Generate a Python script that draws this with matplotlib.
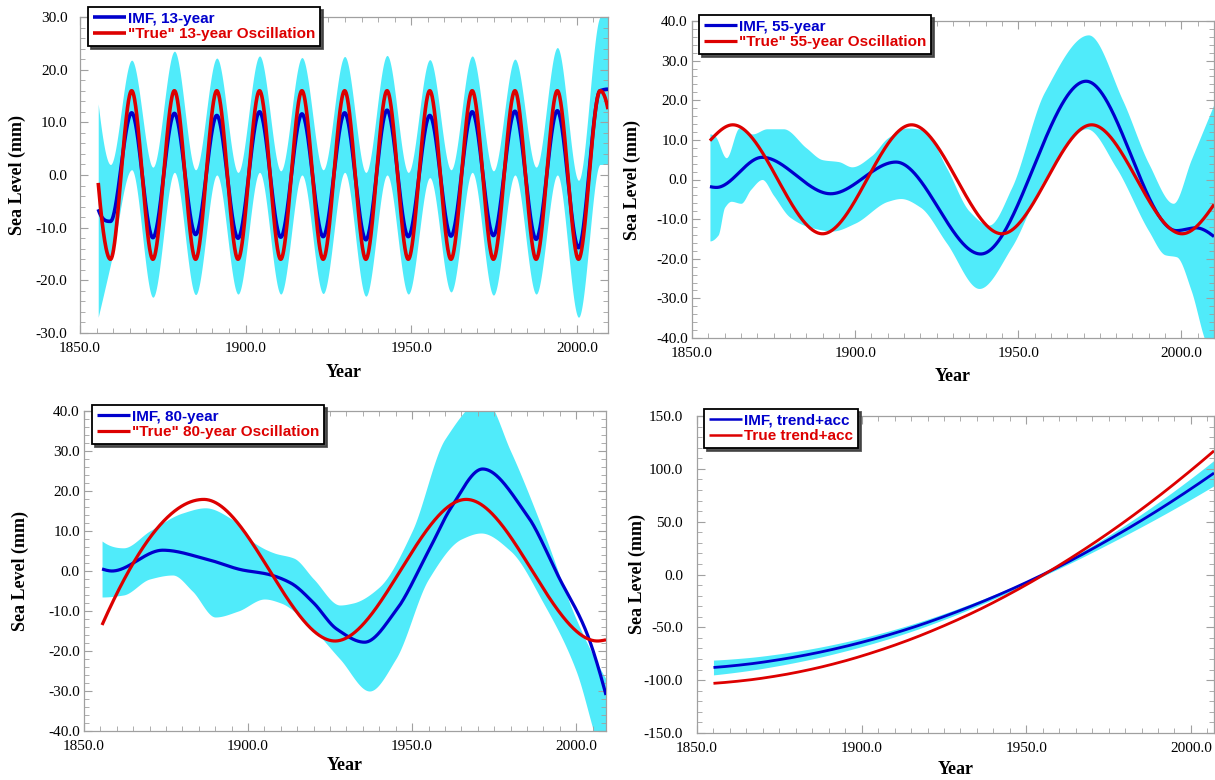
import numpy as np
import matplotlib
matplotlib.use("Agg")
import matplotlib.pyplot as plt
from matplotlib.ticker import MultipleLocator, FormatStrFormatter

# ---------------- data (knots) ----------------
# Panel 1: 13-year oscillation
yr13 = [1855.5, 1859.2, 1865.6, 1872.0, 1878.5, 1884.9, 1891.3, 1897.7, 1904.2,
        1910.6, 1917.0, 1923.4, 1929.9, 1936.3, 1942.7, 1949.1, 1955.6, 1962.0,
        1968.4, 1974.8, 1981.3, 1987.7, 1994.1, 2000.5, 2007.0, 2009.4]
true13 = [-1.5, -16, 16, -16, 16, -16, 16, -16, 16, -16, 16, -16, 16, -16, 16,
          -16, 16, -16, 16, -16, 16, -16, 16, -16, 16, 12.5]
imf13 = [-6.5, -8.8, 11.8, -11.9, 11.7, -11.3, 11.3, -12.0, 12.0, -11.8, 11.6,
         -11.7, 11.8, -12.3, 12.3, -11.7, 11.3, -11.6, 12.0, -11.5, 12.1, -12.2,
         12.2, -13.8, 16.0, 16.3]
up13 = [13.5, 2.0, 21.8, 1.5, 23.5, 1.0, 22.2, 0.5, 22.6, 0.8, 22.3, 1.0, 22.5,
        0.5, 22.7, 0.5, 21.9, 1.0, 22.6, 0.8, 22.0, 1.5, 24.2, -1.0, 30.0, 31.0]
lo13 = [-27.0, -17.0, 1.0, -23.2, 0.5, -22.7, 0.0, -22.6, 0.5, -22.6, 0.0, -22.5,
        0.5, -23.0, 0.0, -22.6, -0.5, -22.2, 0.5, -22.8, 0.0, -22.6, 0.0, -27.0,
        2.0, 2.0]

# Panel 2: 55-year oscillation
yr55_true = [1855.5, 1862.5, 1890.0, 1917.3, 1945.0, 1972.5, 2000.2, 2010.0]
true55 = [9.8, 13.8, -13.7, 13.8, -13.7, 13.8, -13.7, -6.3]
yr55_imf = [1855.5, 1857.5, 1871.5, 1892.5, 1912.5, 1938.5, 1970.8, 1998.5, 2004.5, 2010.0]
imf55 = [-1.8, -2.0, 5.6, -3.6, 4.4, -18.8, 24.8, -12.9, -12.2, -14.4]
yr55_up = [1855.5, 1857.0, 1860.5, 1864.5, 1868.5, 1873.0, 1878.0, 1885.0, 1890.0,
           1895.0, 1899.0, 1905.0, 1910.0, 1916.0, 1921.0, 1928.0, 1935.0, 1941.0,
           1948.0, 1958.0, 1971.5, 1982.0, 1990.0, 1997.5, 2003.0, 2010.0]
up55 = [11.5, 11.0, 5.5, 13.0, 11.5, 12.8, 12.8, 8.0, 5.0, 4.5, 3.2, 6.0, 10.5,
        13.0, 12.5, 3.0, -8.0, -11.5, -2.0, 22.0, 36.5, 20.0, 4.0, -6.0, 5.0, 19.0]
yr55_lo = [1855.5, 1858.0, 1860.0, 1862.0, 1865.0, 1868.0, 1871.5, 1875.0, 1880.0,
           1886.0, 1893.0, 1900.0, 1910.0, 1914.0, 1920.0, 1928.0, 1938.0, 1948.0,
           1958.0, 1971.0, 1980.0, 1990.0, 1995.0, 1998.5, 2003.0, 2007.0, 2010.0]
lo55 = [-15.5, -14.0, -7.0, -5.5, -6.0, -2.5, 0.0, -4.0, -9.5, -12.0, -13.0, -11.0,
        -5.5, -4.8, -7.0, -16.0, -27.5, -17.0, 0.0, 12.8, 3.0, -13.0, -19.0, -19.5,
        -28.0, -40.0, -46.0]

# Panel 3: 80-year oscillation
yr80_true = [1855.5, 1886.5, 1926.5, 1966.5, 2006.5, 2009.1]
true80 = [-13.5, 17.9, -17.5, 17.9, -17.5, -17.2]
yr80_imf = [1855.5, 1858.5, 1874.0, 1888.0, 1898.0, 1906.0, 1913.0, 1920.0, 1927.0,
            1935.5, 1945.0, 1955.0, 1962.0, 1971.5, 1985.0, 1995.0, 2003.0, 2009.1]
imf80 = [0.5, 0.0, 5.2, 2.8, 0.3, -0.8, -3.0, -8.0, -14.5, -17.8, -10.0, 5.0, 16.0,
         25.5, 14.0, -2.0, -15.0, -31.0]
yr80_up = [1855.5, 1862.0, 1870.0, 1880.0, 1887.0, 1895.0, 1902.0, 1908.0, 1914.0,
           1920.0, 1928.0, 1932.0, 1940.0, 1950.0, 1960.0, 1972.0, 1980.0, 1990.0,
           2000.0, 2009.1]
up80 = [7.5, 5.8, 10.0, 14.5, 15.8, 13.0, 7.0, 4.5, 3.2, -2.0, -8.5, -8.0, -4.0,
        10.0, 33.0, 43.0, 30.0, 10.0, -12.0, -27.0]
yr80_lo = [1855.5, 1862.0, 1870.0, 1877.0, 1883.0, 1890.0, 1897.0, 1905.0, 1910.0,
           1918.0, 1928.0, 1937.0, 1945.0, 1955.0, 1965.0, 1971.0, 1980.0, 1990.0,
           2000.0, 2006.0, 2009.1]
lo80 = [-6.5, -6.0, -2.0, -1.0, -5.0, -11.5, -10.0, -7.0, -8.0, -13.0, -22.0, -30.0,
        -22.0, -2.0, 8.0, 9.5, 5.0, -8.0, -25.0, -42.0, -50.0]

# Panel 4: trend + acceleration
yr_tr = [1855, 1865, 1875, 1885, 1895, 1905, 1915, 1925, 1935, 1945, 1955, 1965,
         1975, 1985, 1995, 2007]
true_tr = [-103.0, -100.1, -95.6, -89.5, -81.7, -72.2, -61.2, -48.5, -34.3, -18.3,
           -0.7, 18.5, 39.3, 61.8, 85.9, 117.0]
imf_tr = [-88.0, -85.0, -80.6, -75.0, -68.1, -60.0, -50.6, -39.8, -27.8, -14.6,
          -0.1, 15.7, 32.9, 51.2, 70.8, 96.0]
up_tr = [-81.0, -78.8, -75.1, -70.1, -63.8, -56.2, -47.3, -37.0, -25.5, -12.8, 1.4,
         18.2, 36.9, 57.2, 79.3, 108.0]
lo_tr = [-95.0, -91.2, -86.1, -79.9, -72.4, -63.8, -53.9, -42.6, -30.1, -16.4, -1.6,
         13.2, 28.9, 45.2, 62.3, 84.0]

xticks = [1850, 1900, 1950, 2000]

# ---------------- helpers ----------------
def pchip(x, y, n=1500):
    x = np.asarray(x, float)
    y = np.asarray(y, float)
    h = np.diff(x)
    d = np.diff(y) / h
    m = np.zeros_like(y)
    for k in range(1, len(x) - 1):
        if d[k - 1] * d[k] > 0:
            w1 = 2 * h[k] + h[k - 1]
            w2 = h[k] + 2 * h[k - 1]
            m[k] = (w1 + w2) / (w1 / d[k - 1] + w2 / d[k])
    def endm(h0, h1, d0, d1):
        mm = ((2 * h0 + h1) * d0 - h0 * d1) / (h0 + h1)
        if np.sign(mm) != np.sign(d0):
            mm = 0.0
        elif np.sign(d0) != np.sign(d1) and abs(mm) > abs(3 * d0):
            mm = 3 * d0
        return mm
    if len(x) > 2:
        m[0] = endm(h[0], h[1], d[0], d[1])
        m[-1] = endm(h[-1], h[-2], d[-1], d[-2])
    else:
        m[:] = d[0]
    xn = np.linspace(x[0], x[-1], n)
    idx = np.clip(np.searchsorted(x, xn) - 1, 0, len(x) - 2)
    t = (xn - x[idx]) / h[idx]
    h00 = 2 * t**3 - 3 * t**2 + 1
    h10 = t**3 - 2 * t**2 + t
    h01 = -2 * t**3 + 3 * t**2
    h11 = t**3 - t**2
    yn = h00 * y[idx] + h10 * h[idx] * m[idx] + h01 * y[idx + 1] + h11 * h[idx] * m[idx + 1]
    return xn, yn

W, H = 1215, 780
fig = plt.figure(figsize=(W / 100, H / 100), dpi=100)

CYAN = "#50EBFA"
BLUE = "#0000CC"
RED = "#DD0000"
SERIF = "Liberation Serif"
SANS = "Liberation Sans"

def make_axes(l, r, t, b):
    return fig.add_axes([l / W, 1 - b / H, (r - l) / W, (b - t) / H])

def style(ax, xlim, ylim, ymaj, ymin, ypad, ylab_x, xlab_y):
    ax.set_xlim(*xlim)
    ax.set_ylim(*ylim)
    ax.set_xticks(xticks)
    ax.xaxis.set_minor_locator(MultipleLocator(5))
    ax.yaxis.set_major_locator(MultipleLocator(ymaj))
    ax.yaxis.set_minor_locator(MultipleLocator(ymin))
    ax.xaxis.set_major_formatter(FormatStrFormatter("%.1f"))
    ax.yaxis.set_major_formatter(FormatStrFormatter("%.1f"))
    for sp in ax.spines.values():
        sp.set_color("#a0a0a0")
        sp.set_linewidth(0.9)
    ax.tick_params(which="both", direction="in", top=True, right=True, color="#a0a0a0")
    ax.tick_params(which="major", length=6, width=0.8)
    ax.tick_params(which="minor", length=3.5, width=0.6)
    ax.tick_params(axis="x", which="major", pad=6.5)
    ax.tick_params(axis="y", which="major", pad=ypad)
    for lab in ax.get_xticklabels() + ax.get_yticklabels():
        lab.set_fontfamily(SERIF)
        lab.set_fontsize(11)
    ax.set_xlabel("Year", fontfamily=SERIF, fontweight="bold", fontsize=13)
    ax.set_ylabel("Sea Level (mm)", fontfamily=SERIF, fontweight="bold", fontsize=13)
    pos = ax.get_position()
    ax.yaxis.set_label_coords(ylab_x / W, pos.y0 + pos.height / 2, transform=fig.transFigure)
    ax.xaxis.set_label_coords(pos.x0 + pos.width / 2, 1 - xlab_y / H, transform=fig.transFigure)
    ax.xaxis.label.set_va("center")
    ax.yaxis.label.set_va("center")

def legend(ax, x, y, lw):
    leg = ax.legend(loc="upper left", bbox_to_anchor=(x / W, 1 - y / H),
                    bbox_transform=fig.transFigure, borderaxespad=0,
                    frameon=True, fancybox=False, shadow={"color": "0.25", "alpha": 0.9},
                    prop={"family": SANS, "weight": "bold", "size": 11},
                    labelcolor="linecolor", handlelength=2.2, handletextpad=0.15,
                    labelspacing=0.12, borderpad=0.3)
    leg.get_frame().set_edgecolor("black")
    leg.get_frame().set_linewidth(1.3)
    for l in leg.get_lines():
        l.set_linewidth(lw)
    leg.set_zorder(10)

def panel(ax, band, imf, true, lw, labels):
    xu, yu = pchip(*band[0])
    xl, yl = pchip(*band[1])
    ax.fill_between(xu, np.interp(xu, xl, yl), yu, color=CYAN, lw=0, zorder=1)
    xb, yb = pchip(*imf)
    xr, yr = pchip(*true)
    ax.plot(xb, yb, color=BLUE, lw=lw, label=labels[0], zorder=3, solid_capstyle="butt")
    ax.plot(xr, yr, color=RED, lw=lw, label=labels[1], zorder=4, solid_capstyle="butt")

# ---- Panel 1 ----
ax1 = make_axes(80, 608, 17, 333)
panel(ax1, ((yr13, up13), (yr13, lo13)), (yr13, imf13), (yr13, true13), 2.6,
      ("IMF, 13-year", '"True" 13-year Oscillation'))
style(ax1, (1850, 2009.4), (-30, 30), 10, 2, 9, 17, 372)
legend(ax1, 88, 7, 2.6)

# ---- Panel 2 ----
ax2 = make_axes(692, 1214, 21, 338)
panel(ax2, ((yr55_up, up55), (yr55_lo, lo55)), (yr55_imf, imf55), (yr55_true, true55), 2.3,
      ("IMF, 55-year", '"True" 55-year Oscillation'))
style(ax2, (1850, 2010), (-40, 40), 10, 2, 3, 632, 376)
legend(ax2, 699, 15, 2.3)

# ---- Panel 3 ----
ax3 = make_axes(84, 606, 411, 731)
panel(ax3, ((yr80_up, up80), (yr80_lo, lo80)), (yr80_imf, imf80), (yr80_true, true80), 2.3,
      ("IMF, 80-year", '"True" 80-year Oscillation'))
style(ax3, (1850, 2009.1), (-40, 40), 10, 2, 3, 20, 766)
legend(ax3, 92, 405, 2.3)

# ---- Panel 4 ----
ax4 = make_axes(697, 1214, 416, 733)
panel(ax4, ((yr_tr, up_tr), (yr_tr, lo_tr)), (yr_tr, imf_tr), (yr_tr, true_tr), 2.0,
      ("IMF, trend+acc", "True trend+acc"))
style(ax4, (1850, 2007), (-150, 150), 50, 10, 10, 637, 769)
legend(ax4, 704, 409, 1.8)

fig.savefig("out.png", dpi=100)
